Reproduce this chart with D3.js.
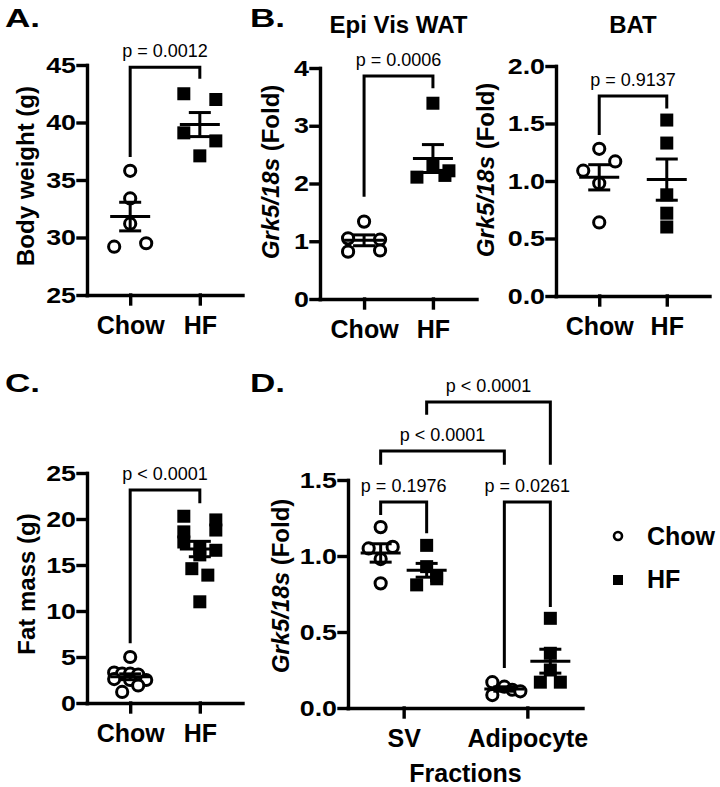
<!DOCTYPE html>
<html>
<head>
  <meta charset="utf-8" />
  <title>Grk5 dot plots</title>
  <script src="https://d3js.org/d3.v7.min.js"></script>
  <style>
    body { margin: 0; background: #fff; }
    svg { display: block; font-family: "Liberation Sans", Arial, sans-serif; }
    .axis path, .axis line { stroke: #000; stroke-width: 3.4; stroke-linecap: square; }
    .axis .tick text { font-size: 22px; font-weight: bold; fill: #000; }
    .xaxis .tick text { font-size: 25px; }
    .bold { font-weight: bold; fill: #000; }
    .pval { font-size: 18px; fill: #000; }
  </style>
</head>
<body>
  <svg width="720" height="787"></svg>

  <script>
    const groups = ["Chow", "HF"];
    const fractions = ["SV", "Adipocyte"];

    // A. body weight (g)
    const bodyWeightChow = [35.8, 33.4, 31.2, 29.2, 29.5];
    const bodyWeightHF = [42.5, 42.0, 39.1, 38.4, 37.1];
    // B. Grk5/18s, epididymal visceral WAT
    const epiChow = [1.34, 1.05, 1.03, 0.82, 0.84];
    const epiHF = [3.39, 2.30, 2.22, 2.14, 2.11];
    // B. Grk5/18s, BAT
    const batChow = [1.28, 1.17, 1.09, 0.98, 0.64];
    const batHF = [1.53, 1.33, 0.88, 0.72, 0.60];
    // C. fat mass (g)
    const fatChow = [5.0, 3.3, 3.2, 3.2, 3.1, 2.6, 2.5, 2.5, 1.9, 1.2];
    const fatHF = [20.3, 19.9, 18.8, 18.6, 17.5, 16.8, 16.6, 16.1, 14.6, 13.9, 11.0];
    // D. Grk5/18s by fraction
    const svChow = [1.19, 1.05, 1.06, 0.98, 0.82];
    const svHF = [1.07, 0.93, 0.87, 0.85, 0.81];
    const adipChow = [0.17, 0.14, 0.12, 0.11, 0.085];
    const adipHF = [0.59, 0.36, 0.25, 0.17, 0.17];

    // tick labels
    const bodyWeightTicks = [25, 30, 35, 40, 45];
    const epiTicks = [0, 1, 2, 3, 4];
    const batTicks = [0, 0.5, 1, 1.5, 2];
    const fatTicks = [0, 5, 10, 15, 20, 25];
    const fractionTicks = [0, 0.5, 1, 1.5];

    // p values
    const pBodyWeight = "p = 0.0012";
    const pEpi = "p = 0.0006";
    const pBat = "p = 0.9137";
    const pFat = "p < 0.0001";
    const pFraction = ["p = 0.1976", "p = 0.0261", "p < 0.0001", "p < 0.0001"];

    const svg = d3.select("svg");
    svg.append("rect").attr("width", 720).attr("height", 787).attr("fill", "#fff");

    const SLOT = 8;       // horizontal spacing of scattered points
    const stretch = 1.22; // tick labels in the figure are drawn wide

    function panel(p) {
      const g = svg.append("g");
      const y = d3.scaleLinear().domain(p.domain).range([p.yBottom, p.yTop]);
      const x = d3.scalePoint().domain(p.cats).range([p.xLeft, p.xRight]).padding(p.pad);

      const yAxis = g.append("g").attr("class", "axis")
        .attr("transform", `translate(${p.xLeft},0)`)
        .call(d3.axisLeft(y).tickValues(p.ticks).tickFormat(p.fmt).tickSize(9).tickSizeOuter(0));
      yAxis.selectAll(".tick text")
        .attr("x", -11 / stretch)
        .attr("transform", `scale(${stretch},1)`);

      const xAxis = g.append("g").attr("class", "axis xaxis")
        .attr("transform", `translate(0,${p.yBottom})`)
        .call(d3.axisBottom(x).tickSize(9).tickPadding(12).tickSizeOuter(0));
      xAxis.select(".domain").attr("d", `M${p.xLeft},0.5H${p.xRight}`);

      const xOf = s => x(s.cat) + (s.off || 0);

      p.series.forEach(s => {
        const cx = xOf(s);
        if (s.shape === "circle") {
          g.selectAll(null).data(s.values).join("circle")
            .attr("cx", (d, i) => cx + s.slots[i] * SLOT)
            .attr("cy", d => y(d))
            .attr("r", 5.6)
            .attr("fill", "#fff")
            .attr("stroke", "#000")
            .attr("stroke-width", 3);
        } else {
          g.selectAll(null).data(s.values).join("rect")
            .attr("x", (d, i) => cx + s.slots[i] * SLOT - 6.5)
            .attr("y", d => y(d) - 6.5)
            .attr("width", 13)
            .attr("height", 13)
            .attr("fill", "#000");
        }
        // mean and SEM
        const m = d3.mean(s.values);
        const se = d3.deviation(s.values) / Math.sqrt(s.values.length);
        const err = g.append("g").attr("stroke", "#000").attr("stroke-width", 3);
        err.append("line").attr("x1", cx - 20).attr("x2", cx + 20).attr("y1", y(m)).attr("y2", y(m));
        err.append("line").attr("x1", cx).attr("x2", cx).attr("y1", y(m - se)).attr("y2", y(m + se));
        [m - se, m + se].forEach(v => {
          err.append("line").attr("x1", cx - 11).attr("x2", cx + 11).attr("y1", y(v)).attr("y2", y(v));
        });
      });

      p.brackets.forEach(b => {
        const x1 = xOf(p.series[b.s[0]]), x2 = xOf(p.series[b.s[1]]);
        g.append("path")
          .attr("d", `M${x1},${y(b.legs[0])}V${y(b.top)}H${x2}V${y(b.legs[1])}`)
          .attr("fill", "none").attr("stroke", "#000").attr("stroke-width", 3);
        g.append("text").attr("class", "pval")
          .attr("x", (x1 + x2) / 2).attr("y", y(b.top) - 10)
          .attr("text-anchor", "middle")
          .text(b.label);
      });

      // y title
      const t = g.append("text").attr("class", "bold")
        .attr("transform", `translate(${p.titleX},${p.titleY}) rotate(-90)`)
        .attr("text-anchor", "middle")
        .style("font-size", "24px");
      p.title.forEach(part => t.append("tspan").style("font-style", part.italic ? "italic" : "normal").text(part.text));

      if (p.heading) {
        g.append("text").attr("class", "bold")
          .attr("x", (x(p.cats[0]) + x(p.cats[1])) / 2).attr("y", 33)
          .attr("text-anchor", "middle").style("font-size", "24px")
          .text(p.heading);
      }
      if (p.xTitle) {
        g.append("text").attr("class", "bold")
          .attr("x", (p.xLeft + p.xRight) / 2).attr("y", p.yBottom + 74)
          .attr("text-anchor", "middle").style("font-size", "25px")
          .text(p.xTitle);
      }
    }

    const grkTitle = [{ text: "Grk5/18s", italic: true }, { text: " (Fold)" }];

    // A
    panel({
      xLeft: 87, xRight: 243, yTop: 65, yBottom: 295, pad: 0.62,
      cats: groups, domain: [25, 45], ticks: bodyWeightTicks, fmt: d3.format("d"),
      title: [{ text: "Body weight (g)" }], titleX: 34, titleY: 176,
      series: [
        { cat: "Chow", values: bodyWeightChow, slots: [0, 0, 0, -2, 2], shape: "circle" },
        { cat: "HF", values: bodyWeightHF, slots: [-2, 2, -2, 2, 0], shape: "square" }
      ],
      brackets: [{ s: [0, 1], top: 44.8, legs: [37.0, 43.8], label: pBodyWeight }]
    });

    // B, epi vis WAT
    panel({
      xLeft: 320, xRight: 477, yTop: 68, yBottom: 299, pad: 0.64,
      cats: groups, domain: [0, 4], ticks: epiTicks, fmt: d3.format("d"),
      title: grkTitle, titleX: 279, titleY: 172, heading: "Epi Vis WAT",
      series: [
        { cat: "Chow", values: epiChow, slots: [0, -2, 2, -2, 2], shape: "circle" },
        { cat: "HF", values: epiHF, slots: [0, 0, 2, 1.5, -2], shape: "square" }
      ],
      brackets: [{ s: [0, 1], top: 3.86, legs: [1.77, 3.65], label: pEpi }]
    });

    // B, BAT
    panel({
      xLeft: 556, xRight: 710, yTop: 66, yBottom: 296, pad: 0.64,
      cats: groups, domain: [0, 2], ticks: batTicks, fmt: d3.format(".1f"),
      title: grkTitle, titleX: 494, titleY: 170, heading: "BAT",
      series: [
        { cat: "Chow", values: batChow, slots: [0, 2, -2, 0, 0], shape: "circle" },
        { cat: "HF", values: batHF, slots: [0, 0, 0, 0, 0], shape: "square" }
      ],
      brackets: [{ s: [0, 1], top: 1.74, legs: [1.40, 1.63], label: pBat }]
    });

    // C
    panel({
      xLeft: 87, xRight: 243, yTop: 473, yBottom: 703, pad: 0.62,
      cats: groups, domain: [0, 25], ticks: fatTicks, fmt: d3.format("d"),
      title: [{ text: "Fat mass (g)" }], titleX: 35, titleY: 584,
      series: [
        { cat: "Chow", values: fatChow, slots: [0, -2, -1, 0, 1, -2, 0, 2, 1, -1], shape: "circle" },
        { cat: "HF", values: fatHF, slots: [-2, 2, 2, -2, -2, 0, 2, 0, -1, 1, 0], shape: "square" }
      ],
      brackets: [{ s: [0, 1], top: 23.15, legs: [6.5, 21.7], label: pFat }]
    });

    // D
    panel({
      xLeft: 348, xRight: 583, yTop: 480, yBottom: 708, pad: 0.45,
      cats: fractions, domain: [0, 1.5], ticks: fractionTicks, fmt: d3.format(".1f"),
      title: grkTitle, titleX: 289, titleY: 586, xTitle: "Fractions",
      series: [
        { cat: "SV", off: -23, values: svChow, slots: [0, -1.5, 1.5, 0, 0], shape: "circle" },
        { cat: "SV", off: 23, values: svHF, slots: [0, 0, 1.25, 1.25, -1.25], shape: "square" },
        { cat: "Adipocyte", off: -23, values: adipChow, slots: [-1.5, 0, 1, 2, -1.5], shape: "circle" },
        { cat: "Adipocyte", off: 23, values: adipHF, slots: [0, 0, 0, -1.25, 1.25], shape: "square" }
      ],
      brackets: [
        { s: [0, 1], top: 1.355, legs: [1.27, 1.15], label: pFraction[0] },
        { s: [2, 3], top: 1.355, legs: [0.263, 0.665], label: pFraction[1] },
        { s: [0, 2], top: 1.69, legs: [1.60, 1.60], label: pFraction[2] },
        { s: [1, 3], top: 2.013, legs: [1.93, 1.60], label: pFraction[3] }
      ]
    });

    // panel letters
    [["A.", 5, 27], ["B.", 250, 27], ["C.", 5, 392], ["D.", 250, 392]].forEach(([txt, lx, ly]) => {
      svg.append("text").attr("class", "bold")
        .attr("transform", `translate(${lx},${ly}) scale(1.35,1)`)
        .style("font-size", "26px")
        .text(txt);
    });

    // legend
    const legend = svg.append("g").attr("transform", "translate(618,0)");
    legend.append("circle").attr("cx", 0).attr("cy", 536).attr("r", 4)
      .attr("fill", "#fff").attr("stroke", "#000").attr("stroke-width", 2.6);
    legend.append("rect").attr("x", -5).attr("y", 575).attr("width", 10).attr("height", 10).attr("fill", "#000");
    legend.selectAll(null).data(groups).join("text").attr("class", "bold")
      .attr("x", 29).attr("y", (d, i) => 545 + i * 43)
      .style("font-size", "25px")
      .text(d => d);
  </script>
</body>
</html>
